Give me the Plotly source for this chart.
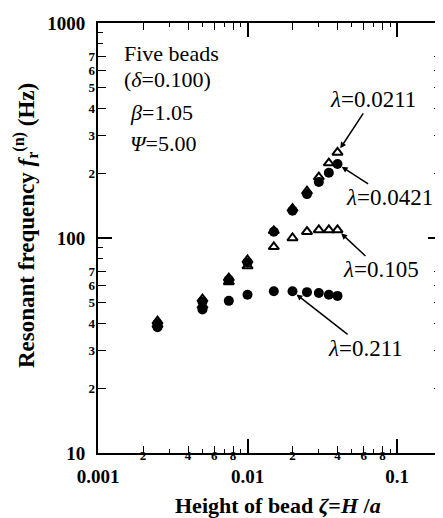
import math
import plotly.graph_objects as go

# ---- data ----
zeta = [0.0025, 0.005, 0.0075, 0.01, 0.015, 0.02, 0.025, 0.03, 0.035, 0.04]
f_l0211 = [41, 52, 65, 79, 108, 137, 165, 192, 223, 250]   # open triangles
f_l0421 = [40, 50.5, 64, 77, 107, 134, 160, 182, 201, 221]  # filled circles
f_l105 = [39.5, 48.5, 62.5, 74, 91, 100, 107, 109, 109, 109]  # open triangles
f_l211 = [38.5, 46.5, 51, 54.5, 56.5, 56.5, 56, 55.5, 54.5, 53.8]  # filled circles

x_major_vals = [0.001, 0.01, 0.1]
x_major_text = ["0.001", "0.01", "0.1"]
x_minor_vals = [0.002, 0.004, 0.006, 0.008, 0.02, 0.04, 0.06, 0.08, 0.2]
x_minor_text = ["2", "4", "6", "8", "2", "4", "6", "8", "2"]
y_major_vals = [10, 100, 1000]
y_major_text = ["10", "100", "1000"]
y_minor_vals = [20, 30, 40, 50, 60, 70, 200, 300, 400, 500, 600, 700]
y_minor_text = ["2", "3", "4", "5", "6", "7"] * 2

FONT = "Liberation Serif"
BLACK = "black"

fig = go.Figure()
fig.add_trace(go.Scatter(x=zeta, y=f_l0421, mode="markers",
                         marker=dict(symbol="circle", size=10, color=BLACK)))
fig.add_trace(go.Scatter(x=zeta, y=f_l211, mode="markers",
                         marker=dict(symbol="circle", size=10, color=BLACK)))
fig.add_trace(go.Scatter(x=zeta, y=f_l0211, mode="markers",
                         marker=dict(symbol="triangle-up-open", size=9, color=BLACK,
                                     line=dict(width=2, color=BLACK))))
fig.add_trace(go.Scatter(x=zeta, y=f_l105, mode="markers",
                         marker=dict(symbol="triangle-up-open", size=9, color=BLACK,
                                     line=dict(width=2, color=BLACK))))
# empty trace to hold the secondary label axes
fig.add_trace(go.Scatter(x=[], y=[], xaxis="x2", yaxis="y2", hoverinfo="skip"))

minor_x = [m * 10 ** e for e in (-3, -2, -1) for m in range(1, 10) if m * 10 ** e <= 0.2]
minor_y = [m * 10 ** e for e in (1, 2) for m in range(1, 10)]

xr = [-3, math.log10(0.2)]
yr = [1, 3]

# page has an 8px body margin, so the figure is sized/offset to compensate
fig.update_layout(
    width=435, height=510,
    margin=dict(l=90, r=1, t=15, b=65),
    paper_bgcolor="white", plot_bgcolor="white",
    showlegend=False,
    font=dict(family=FONT, color=BLACK),
    xaxis=dict(type="log", range=xr, tickvals=x_major_vals, ticktext=x_major_text,
               ticks="inside", ticklen=14, tickwidth=1.5, tickcolor=BLACK,
               mirror="allticks", showline=True, linewidth=2, linecolor=BLACK,
               showgrid=False, zeroline=False, automargin=False,
               tickfont=dict(family=FONT, size=19, weight="bold", color=BLACK),
               ticklabelstandoff=5, ticklabeloverflow="allow",
               minor=dict(tickvals=minor_x, ticks="inside", ticklen=4, tickwidth=1.2,
                          tickcolor=BLACK, showgrid=False)),
    xaxis2=dict(type="log", range=xr, overlaying="x", anchor="y", side="bottom",
                tickvals=x_minor_vals, ticktext=x_minor_text,
                ticks="inside", ticklen=7, tickwidth=1.3, tickcolor=BLACK,
                mirror="allticks", showline=False, showgrid=False, zeroline=False,
                automargin=False,
                tickfont=dict(family=FONT, size=13, weight="bold", color=BLACK),
                ticklabelstandoff=-7, ticklabeloverflow="allow"),
    yaxis=dict(type="log", range=yr, tickvals=y_major_vals, ticktext=y_major_text,
               ticks="inside", ticklen=14, tickwidth=1.5, tickcolor=BLACK,
               mirror="allticks", showline=True, linewidth=2, linecolor=BLACK,
               showgrid=False, zeroline=False, automargin=False,
               tickfont=dict(family=FONT, size=19, weight="bold", color=BLACK),
               ticklabelstandoff=7, ticklabeloverflow="allow",
               minor=dict(tickvals=minor_y, ticks="inside", ticklen=5, tickwidth=1.2,
                          tickcolor=BLACK, showgrid=False)),
    yaxis2=dict(type="log", range=yr, overlaying="y", anchor="x", side="left",
                tickvals=y_minor_vals, ticktext=y_minor_text,
                ticks="inside", ticklen=8, tickwidth=1.3, tickcolor=BLACK,
                mirror="allticks", showline=False, showgrid=False, zeroline=False,
                automargin=False,
                tickfont=dict(family=FONT, size=13, weight="bold", color=BLACK),
                ticklabelstandoff=2, ticklabeloverflow="allow"),
)

PW, PH = 344, 430  # plot area size in px
def px_x(p):
    return (p - 98) / PW
def px_y(p):
    return (453 - p) / PH

# axis titles
fig.add_annotation(xref="paper", yref="paper", x=px_x(25), y=px_y(226),
                   text="<b>Resonant frequency <i>f</i><sub>r</sub><sup>(n)</sup> (Hz)</b>",
                   textangle=-90, showarrow=False, xanchor="center", yanchor="middle",
                   font=dict(family=FONT, size=23, color=BLACK))
fig.add_annotation(xref="paper", yref="paper", x=px_x(278), y=px_y(505),
                   text="<b>Height of bead <i>ζ</i>=<i>H</i> /<i>a</i></b>",
                   showarrow=False, xanchor="center", yanchor="middle",
                   font=dict(family=FONT, size=22, color=BLACK))

# parameter block
params = [("Five beads", 122, 53), ("(<i>δ</i>=0.100)", 122, 79),
          ("<i>β</i>=1.05", 128, 112), ("<i>Ψ</i>=5.00", 128, 143)]
for txt, px, py in params:
    fig.add_annotation(xref="paper", yref="paper", x=px_x(px), y=px_y(py),
                       text=txt, showarrow=False, xanchor="left", yanchor="middle",
                       font=dict(family=FONT, size=22, color=BLACK))

# lambda labels with arrows
labels = [("<i>λ</i>=0.0211", zeta[-1], f_l0211[-1], 35, -53),
          ("<i>λ</i>=0.0421", zeta[-1], f_l0421[-1], 52, 34),
          ("<i>λ</i>=0.105", zeta[-1], f_l105[-1], 43, 40),
          ("<i>λ</i>=0.211", zeta[5], f_l211[5], 73, 57)]
for txt, xv, yv, ax, ay in labels:
    fig.add_annotation(x=math.log10(xv), y=math.log10(yv), xref="x", yref="y",
                       text=txt, showarrow=True, ax=ax, ay=ay,
                       arrowhead=2, arrowsize=0.8, arrowwidth=1.5, arrowcolor=BLACK,
                       standoff=5, font=dict(family=FONT, size=23, color=BLACK))

fig.write_html("out.html")
